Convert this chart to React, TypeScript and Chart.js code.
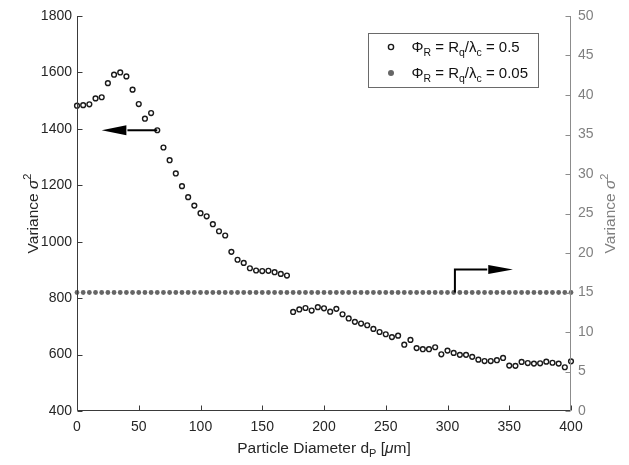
import React, { useEffect, useRef } from "react";
import { Chart, registerables } from "chart.js";

Chart.register(...registerables);

// ---------- data ----------
const diameters = [
  0, 5, 10, 15, 20, 25, 30, 35, 40, 45, 50, 55, 60, 65, 70, 75, 80, 85, 90, 95,
  100, 105, 110, 115, 120, 125, 130, 135, 140, 145, 150, 155, 160, 165, 170, 175, 180, 185, 190, 195,
  200, 205, 210, 215, 220, 225, 230, 235, 240, 245, 250, 255, 260, 265, 270, 275, 280, 285, 290, 295,
  300, 305, 310, 315, 320, 325, 330, 335, 340, 345, 350, 355, 360, 365, 370, 375, 380, 385, 390, 395,
  400,
];

// Phi_R = 0.5 (left axis)
const varianceHigh = [
  1482, 1484, 1487, 1508, 1512, 1562, 1592, 1600, 1586, 1539, 1488, 1436, 1456, 1395, 1334, 1289, 1242, 1197, 1158, 1128,
  1101, 1090, 1062, 1037, 1022, 964, 936, 925, 906, 898, 896, 897, 892, 886, 880, 751, 760, 765, 756, 768,
  764, 752, 762, 743, 728, 716, 710, 704, 691, 680, 672, 662, 667, 635, 652, 623, 619, 619, 626, 601,
  614, 606, 599, 599, 592, 582, 577, 577, 580, 588, 561, 560, 574, 570, 568, 569, 575, 571, 568, 555,
  576,
];

// Phi_R = 0.05 (right axis)
const varianceLow = [
  15, 15, 15, 15, 15, 15, 15, 15, 15, 15, 15, 15, 15, 15, 15, 15, 15, 15, 15, 15,
  15, 15, 15, 15, 15, 15, 15, 15, 15, 15, 15, 15, 15, 15, 15, 15, 15, 15, 15, 15,
  15, 15, 15, 15, 15, 15, 15, 15, 15, 15, 15, 15, 15, 15, 15, 15, 15, 15, 15, 15,
  15, 15, 15, 15, 15, 15, 15, 15, 15, 15, 15, 15, 15, 15, 15, 15, 15, 15, 15, 15,
  15,
];

const xRange = [0, 400];
const xStep = 50;
const leftRange = [400, 1800];
const leftStep = 200;
const rightRange = [0, 50];
const rightStep = 5;

// arrow annotations, in data units
const leftArrowX = [65, 40, 20]; // start, head base, tip
const leftArrowY = 1395;
const rightArrowX = [306, 333, 353]; // corner, head base, tip
const rightArrowY = [15, 17.9]; // on right axis

// ---------- drawing helpers ----------
const FONT = '"Liberation Sans", Arial, Helvetica, sans-serif';
const DARK = "#262626";
const GRAY = "#808080";

type Seg = { t: string; size?: number; italic?: boolean; dy?: number };

function richWidth(ctx: CanvasRenderingContext2D, segs: Seg[], base: number) {
  let w = 0;
  for (const s of segs) {
    ctx.font = `${s.italic ? "italic " : ""}${s.size ?? base}px ${FONT}`;
    w += ctx.measureText(s.t).width;
  }
  return w;
}

function drawRich(
  ctx: CanvasRenderingContext2D,
  segs: Seg[],
  x: number,
  y: number,
  base: number,
  align: "left" | "center"
) {
  const total = richWidth(ctx, segs, base);
  let cx = align === "center" ? x - total / 2 : x;
  ctx.textAlign = "left";
  ctx.textBaseline = "alphabetic";
  for (const s of segs) {
    ctx.font = `${s.italic ? "italic " : ""}${s.size ?? base}px ${FONT}`;
    ctx.fillText(s.t, cx, y + (s.dy ?? 0));
    cx += ctx.measureText(s.t).width;
  }
}

function arrowHead(ctx: CanvasRenderingContext2D, baseX: number, tipX: number, y: number, half: number) {
  ctx.beginPath();
  ctx.moveTo(tipX, y);
  ctx.lineTo(baseX, y - half);
  ctx.lineTo(baseX, y + half);
  ctx.closePath();
  ctx.fill();
}

const plainLabel = (v: any) => String(v);

const decorPlugin = {
  id: "decor",
  afterDraw(chart: any) {
    const ctx: CanvasRenderingContext2D = chart.ctx;
    const { left, right, top, bottom } = chart.chartArea;
    const xs = chart.scales.x;
    const yl = chart.scales.y;
    const yr = chart.scales.y1;
    ctx.save();

    // axes lines
    const L = Math.round(left) + 0.5;
    const R = Math.round(right) - 0.5;
    const B = Math.round(bottom) - 0.5;
    ctx.lineWidth = 1;
    ctx.strokeStyle = "#3a3a3a";
    ctx.beginPath();
    ctx.moveTo(L, top);
    ctx.lineTo(L, B);
    ctx.lineTo(R, B);
    ctx.stroke();
    // bottom ticks (inward)
    for (let v = xRange[0]; v <= xRange[1]; v += xStep) {
      const px = Math.round(xs.getPixelForValue(v)) + 0.5;
      ctx.beginPath();
      ctx.moveTo(px, B);
      ctx.lineTo(px, B - 5);
      ctx.stroke();
    }
    // left ticks
    for (let v = leftRange[0]; v <= leftRange[1]; v += leftStep) {
      const py = Math.round(yl.getPixelForValue(v)) + 0.5;
      ctx.beginPath();
      ctx.moveTo(L, py);
      ctx.lineTo(L + 5, py);
      ctx.stroke();
    }
    // right axis (gray)
    ctx.strokeStyle = "#8c8c8c";
    ctx.beginPath();
    ctx.moveTo(R, top);
    ctx.lineTo(R, B);
    ctx.stroke();
    for (let v = rightRange[0]; v <= rightRange[1]; v += rightStep) {
      const py = Math.round(yr.getPixelForValue(v)) + 0.5;
      ctx.beginPath();
      ctx.moveTo(R, py);
      ctx.lineTo(R - 5, py);
      ctx.stroke();
    }

    // arrows
    ctx.strokeStyle = "#000";
    ctx.fillStyle = "#000";
    ctx.lineWidth = 2;
    const ay = yl.getPixelForValue(leftArrowY);
    const a0 = xs.getPixelForValue(leftArrowX[0]);
    const a1 = xs.getPixelForValue(leftArrowX[1]);
    const a2 = xs.getPixelForValue(leftArrowX[2]);
    ctx.beginPath();
    ctx.moveTo(a0, ay);
    ctx.lineTo(a1 + 1, ay);
    ctx.stroke();
    arrowHead(ctx, a1, a2, ay, 5);

    const bx = xs.getPixelForValue(rightArrowX[0]);
    const bb = xs.getPixelForValue(rightArrowX[1]);
    const bt = xs.getPixelForValue(rightArrowX[2]);
    const by0 = yr.getPixelForValue(rightArrowY[0]);
    const by1 = yr.getPixelForValue(rightArrowY[1]);
    ctx.beginPath();
    ctx.moveTo(bx, by0);
    ctx.lineTo(bx, by1);
    ctx.lineTo(bb - 1, by1);
    ctx.stroke();
    arrowHead(ctx, bb, bt, by1, 4.5);

    // axis titles
    const midY = (top + bottom) / 2;
    const midX = (left + right) / 2;
    ctx.fillStyle = DARK;
    drawRich(
      ctx,
      [{ t: "Particle Diameter d" }, { t: "P", size: 11, dy: 4 }, { t: " [" }, { t: "\u03bc", italic: true }, { t: "m]" }],
      midX,
      453,
      15.5,
      "center"
    );
    const yTitle: Seg[] = [{ t: "Variance " }, { t: "\u03c3", italic: true }, { t: "2", size: 11, dy: -7 }];
    ctx.save();
    ctx.translate(38, midY);
    ctx.rotate(-Math.PI / 2);
    drawRich(ctx, yTitle, 0, 0, 15.5, "center");
    ctx.restore();
    ctx.save();
    ctx.fillStyle = GRAY;
    ctx.translate(615, midY);
    ctx.rotate(-Math.PI / 2);
    drawRich(ctx, yTitle, 0, 0, 15.5, "center");
    ctx.restore();

    // legend
    ctx.lineWidth = 1;
    ctx.strokeStyle = "#6a6a6a";
    ctx.fillStyle = "#fff";
    ctx.fillRect(368.5, 33.5, 170, 54);
    ctx.strokeRect(368.5, 33.5, 170, 54);
    const rows: { label: Seg[]; y: number; filled: boolean }[] = [
      {
        label: [{ t: "\u03a6" }, { t: "R", size: 10.5, dy: 4 }, { t: " = R" }, { t: "q", size: 10.5, dy: 4 }, { t: "/\u03bb" }, { t: "c", size: 10.5, dy: 4 }, { t: " = 0.5" }],
        y: 47,
        filled: false,
      },
      {
        label: [{ t: "\u03a6" }, { t: "R", size: 10.5, dy: 4 }, { t: " = R" }, { t: "q", size: 10.5, dy: 4 }, { t: "/\u03bb" }, { t: "c", size: 10.5, dy: 4 }, { t: " = 0.05" }],
        y: 73,
        filled: true,
      },
    ];
    for (const r of rows) {
      ctx.beginPath();
      ctx.arc(391, r.y, r.filled ? 3 : 2.6, 0, Math.PI * 2);
      if (r.filled) {
        ctx.fillStyle = "#666666";
        ctx.fill();
      } else {
        ctx.fillStyle = "#fff";
        ctx.fill();
        ctx.lineWidth = 1.4;
        ctx.strokeStyle = "#1a1a1a";
        ctx.stroke();
      }
      ctx.fillStyle = "#111";
      drawRich(ctx, r.label, 411.5, r.y + 5, 15, "left");
    }
    ctx.restore();
  },
};

export default function App() {
  const ref = useRef<HTMLCanvasElement | null>(null);

  useEffect(() => {
    document.body.style.margin = "0";
    const canvas = ref.current;
    if (!canvas) return;
    const tickFont = { family: FONT, size: 14 };
    const chart = new Chart(canvas, {
      type: "scatter",
      data: {
        datasets: [
          {
            label: "\u03a6R = Rq/\u03bbc = 0.5",
            data: diameters.map((d, i) => ({ x: d, y: varianceHigh[i] })),
            yAxisID: "y",
            pointRadius: 2.4,
            pointBorderWidth: 1.4,
            borderColor: "#1a1a1a",
            backgroundColor: "#ffffff",
            pointBackgroundColor: "#ffffff",
            pointBorderColor: "#1a1a1a",
            clip: false,
          } as any,
          {
            label: "\u03a6R = Rq/\u03bbc = 0.05",
            data: diameters.map((d, i) => ({ x: d, y: varianceLow[i] })),
            yAxisID: "y1",
            pointRadius: 2.4,
            pointBorderWidth: 0,
            borderColor: "#666666",
            backgroundColor: "#666666",
            pointBackgroundColor: "#666666",
            clip: false,
          } as any,
        ],
      },
      options: {
        responsive: false,
        animation: false,
        devicePixelRatio: 1,
        layout: { padding: { top: 16, left: 0, right: 0, bottom: 0 } },
        plugins: { legend: { display: false }, tooltip: { enabled: false } },
        scales: {
          x: {
            type: "linear",
            min: xRange[0],
            max: xRange[1],
            grid: { display: false, drawTicks: false },
            border: { display: false },
            ticks: { stepSize: xStep, font: tickFont, color: DARK, padding: 8, maxRotation: 0, callback: plainLabel },
            afterFit: (s: any) => {
              s.height = 54;
            },
          },
          y: {
            position: "left",
            min: leftRange[0],
            max: leftRange[1],
            grid: { display: false, drawTicks: false },
            border: { display: false },
            ticks: { stepSize: leftStep, font: tickFont, color: DARK, padding: 5, callback: plainLabel },
            afterFit: (s: any) => {
              s.width = 77;
            },
          },
          y1: {
            position: "right",
            min: rightRange[0],
            max: rightRange[1],
            grid: { display: false, drawTicks: false },
            border: { display: false },
            ticks: { stepSize: rightStep, font: tickFont, color: GRAY, padding: 7, callback: plainLabel },
            afterFit: (s: any) => {
              s.width = 58;
            },
          },
        },
      } as any,
      plugins: [decorPlugin],
    });
    return () => chart.destroy();
  }, []);

  return <canvas ref={ref} width={629} height={465} style={{ display: "block" }} />;
}
